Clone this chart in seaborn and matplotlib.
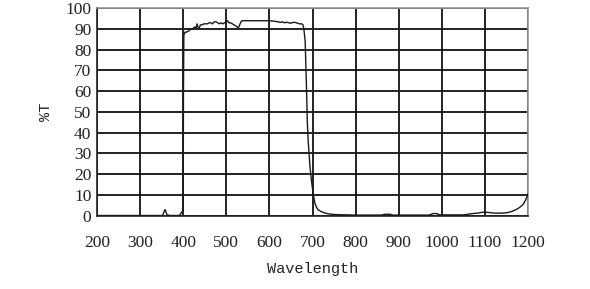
import matplotlib
matplotlib.use("Agg")
import matplotlib.pyplot as plt
import seaborn as sns
import pandas as pd

wavelength = [200, 340, 352, 355, 357.5, 359, 361, 363, 370, 390,
              393, 396, 398.5, 399.5, 400.0, 400.3, 400.6, 401.0, 401.5, 404,
              408, 412, 415, 418, 421, 424, 427, 430, 432, 434,
              437, 440, 444, 448, 452, 456, 460, 464, 468, 472,
              476, 480, 484, 488, 492, 496, 500, 503, 506, 510,
              514, 518, 522, 525, 528, 531, 534, 537, 540, 560,
              580, 600, 610, 620, 625, 630, 635, 640, 645, 650,
              655, 660, 665, 670, 675, 678, 680, 683, 686, 688,
              690, 692, 694, 696, 698, 700, 702, 705, 708, 712,
              716, 720, 726, 732, 740, 750, 760, 780, 800, 860,
              868, 872, 880, 885, 900, 970, 978, 984, 990, 995,
              1000, 1050, 1058, 1066, 1075, 1085, 1092, 1100, 1108, 1118,
              1130, 1145, 1155, 1163, 1170, 1177, 1183, 1188, 1192, 1195,
              1198, 1200]

transmission = [0, 0, 0, 1.5, 2.8, 2.5, 1.0, 0.3, 0, 0,
                0.5, 1.5, 2.0, 3.0, 10, 40, 60, 75, 87, 88.5,
                88.5, 89, 89.5, 90, 90, 90.5, 91, 90.5, 92.5, 91,
                90.5, 92, 92, 92.5, 92.5, 92.5, 93, 93, 92.5, 93.5,
                93.5, 93, 92.5, 93, 92.5, 93, 93.5, 94, 93, 93,
                92.5, 92, 91.5, 91, 90.5, 92, 93.5, 94, 94, 94,
                94, 94, 93.8, 93.5, 93.2, 93.5, 93, 93.3, 93, 92.8,
                93.2, 93.2, 92.8, 92.5, 92.5, 92, 90, 84, 62, 45,
                36, 30, 24, 20, 16, 13, 10, 6.5, 4.5, 3,
                2.4, 1.9, 1.4, 1.0, 0.7, 0.5, 0.4, 0.3, 0.2, 0.2,
                0.6, 0.6, 0.6, 0.2, 0.2, 0.2, 0.8, 1.0, 0.8, 0.3,
                0.3, 0.3, 0.5, 0.8, 1.0, 1.2, 1.5, 1.6, 1.5, 1.2,
                1.1, 1.2, 1.5, 2.0, 2.6, 3.4, 4.3, 5.2, 6.5, 7.8,
                9.3, 10.5]

x_ticks = [200, 300, 400, 500, 600, 700, 800, 900, 1000, 1100, 1200]
y_ticks = [0, 10, 20, 30, 40, 50, 60, 70, 80, 90, 100]

df = pd.DataFrame({"Wavelength": wavelength, "T": transmission})

sns.set_style("white")
fig = plt.figure(figsize=(5.9, 2.89), dpi=100)
ax = fig.add_axes([97 / 590, (289 - 215.5) / 289, 431 / 590, 207.2 / 289])

sns.lineplot(data=df, x="Wavelength", y="T", ax=ax, sort=False, estimator=None,
             color="#1a1a1a", linewidth=1.0, zorder=3)

ax.set_xlim(200, 1200)
ax.set_ylim(0, 100)
ax.set_xticks(x_ticks)
ax.set_yticks(y_ticks)
ax.set_xticklabels([str(v) for v in x_ticks])
ax.set_yticklabels([str(v) for v in y_ticks])
ax.grid(True, color="#111111", linewidth=1.3)
ax.set_axisbelow(True)
for s in ax.spines.values():
    s.set_color("#222222")
    s.set_linewidth(1.2)
ax.spines["top"].set_color("#999999")
ax.spines["right"].set_color("#999999")

ax.tick_params(axis="both", length=0, labelcolor="#222222")
ax.tick_params(axis="x", pad=14)
ax.tick_params(axis="y", pad=4)
for lab in ax.get_xticklabels() + ax.get_yticklabels():
    lab.set_fontfamily("Liberation Serif")
    lab.set_fontsize(12.5)

ax.set_xlabel("Wavelength", fontfamily="Liberation Mono", fontsize=11,
              color="#222222", labelpad=8)
ax.set_ylabel("%T", fontfamily="Liberation Mono", fontsize=11,
              color="#222222", labelpad=9)

fig.savefig("out.png", dpi=100, facecolor="white")
